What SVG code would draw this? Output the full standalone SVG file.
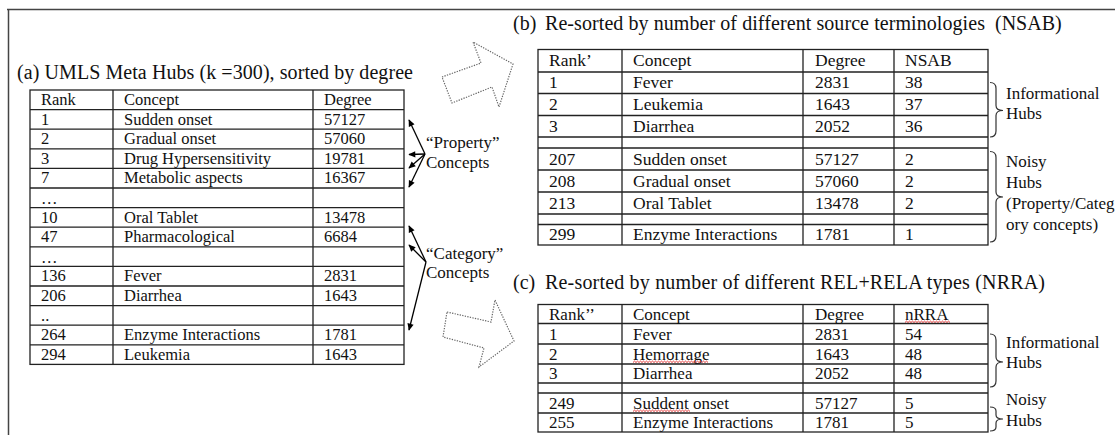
<svg xmlns="http://www.w3.org/2000/svg" width="1115" height="435" viewBox="0 0 1115 435">
<defs>
<marker id="ah" viewBox="0 0 10 10" refX="9" refY="5" markerWidth="8" markerHeight="7" orient="auto" markerUnits="userSpaceOnUse"><path d="M0,0.5 L10,5 L0,9.5 z" fill="#000"/></marker>
</defs>
<style>
text{font-family:"Liberation Serif","Times New Roman",serif;fill:#111}
.ta{font-size:16.5px}
.tb{font-size:17.5px}
.tc{font-size:17px}
.ttl{font-size:20px}
.lbl{font-size:17px}
.grid{fill:none;stroke:#222;stroke-width:1.3}
.blk{fill:#fff;stroke:#666;stroke-width:1.2;stroke-dasharray:1.3 1.3}
.con{stroke:#000;stroke-width:1.3;fill:none;marker-end:url(#ah)}
.brace{fill:none;stroke:#333;stroke-width:1.2}
.wave{fill:none;stroke:#e02020;stroke-width:0.9}
.frame{fill:none;stroke:#444;stroke-width:1.5}
</style>
<rect width="1115" height="435" fill="#fff"/>
<path class="frame" d="M7,9.5H1115M8.5,9V435"/>

<g id="title-a"><text class="ttl" x="17" y="79" textLength="396">(a) UMLS Meta Hubs (k =300), sorted by degree</text></g>

<g id="table-a">
<rect class="grid" x="30" y="90" width="374" height="274.4"/>
<path class="grid" d="M113,90V364.4M313,90V364.4M30,109.6H404M30,129.2H404M30,148.8H404M30,168.4H404M30,188H404M30,207.6H404M30,227.2H404M30,246.8H404M30,266.4H404M30,286H404M30,305.6H404M30,325.2H404M30,344.8H404"/>
<g class="ta">
<text x="41" y="105">Rank</text><text x="124" y="105">Concept</text><text x="324" y="105">Degree</text>
<text x="41" y="124.6">1</text><text x="124" y="124.6">Sudden onset</text><text x="324" y="124.6">57127</text>
<text x="41" y="144.2">2</text><text x="124" y="144.2">Gradual onset</text><text x="324" y="144.2">57060</text>
<text x="41" y="163.8">3</text><text x="124" y="163.8">Drug Hypersensitivity</text><text x="324" y="163.8">19781</text>
<text x="41" y="183.4">7</text><text x="124" y="183.4">Metabolic aspects</text><text x="324" y="183.4">16367</text>
<text x="41" y="204">…</text>
<text x="41" y="222.6">10</text><text x="124" y="222.6">Oral Tablet</text><text x="324" y="222.6">13478</text>
<text x="41" y="242.2">47</text><text x="124" y="242.2">Pharmacological</text><text x="324" y="242.2">6684</text>
<text x="41" y="262.5">…</text>
<text x="41" y="281.4">136</text><text x="124" y="281.4">Fever</text><text x="324" y="281.4">2831</text>
<text x="41" y="301">206</text><text x="124" y="301">Diarrhea</text><text x="324" y="301">1643</text>
<text x="41" y="320.6">..</text>
<text x="41" y="340.2">264</text><text x="124" y="340.2">Enzyme Interactions</text><text x="324" y="340.2">1781</text>
<text x="41" y="359.8">294</text><text x="124" y="359.8">Leukemia</text><text x="324" y="359.8">1643</text>
</g>
</g>

<g id="label-property"><text class="lbl" x="426" y="148">“Property”</text><text class="lbl" x="426" y="168">Concepts</text></g>
<g id="label-category"><text class="lbl" x="426" y="259">“Category”</text><text class="lbl" x="426" y="278">Concepts</text></g>

<g id="connectors">
<line class="con" x1="425" y1="154" x2="409" y2="120"/>
<line class="con" x1="425" y1="154" x2="409" y2="154.5"/>
<line class="con" x1="425" y1="154" x2="409" y2="168"/>
<line class="con" x1="425" y1="154" x2="409" y2="187"/>
<line class="con" x1="426" y1="262" x2="409" y2="226"/>
<line class="con" x1="426" y1="262" x2="409" y2="245"/>
<line class="con" x1="426" y1="262" x2="409" y2="330"/>
<polygon id="arrow-to-b" class="blk" points="442,77 481,63 473,42 513,64 499,107 492,87 452,103"/>
<polygon id="arrow-to-c" class="blk" points="447,312 491,322 495,300 514,341 479,367 484,348 443,337"/>
</g>

<g id="title-b"><text class="ttl" x="513" y="30">(b)</text><text class="ttl" x="545" y="30" textLength="440">Re-sorted by number of different source terminologies</text><text class="ttl" x="995" y="30">(NSAB)</text></g>

<g id="table-b">
<rect class="grid" x="538" y="49.5" width="450" height="195.5"/>
<path class="grid" d="M622,49.5V245M803,49.5V245M894,49.5V245M538,72H988M538,93.5H988M538,115.5H988M538,137H988M538,148H988M538,170H988M538,192H988M538,214H988M538,224.5H988"/>
<g class="tb">
<text x="549" y="66">Rank’</text><text x="633" y="66">Concept</text><text x="815" y="66">Degree</text><text x="905" y="66">NSAB</text>
<text x="549" y="88">1</text><text x="633" y="88">Fever</text><text x="815" y="88">2831</text><text x="905" y="88">38</text>
<text x="549" y="110">2</text><text x="633" y="110">Leukemia</text><text x="815" y="110">1643</text><text x="905" y="110">37</text>
<text x="549" y="131.5">3</text><text x="633" y="131.5">Diarrhea</text><text x="815" y="131.5">2052</text><text x="905" y="131.5">36</text>
<text x="549" y="164.5">207</text><text x="633" y="164.5">Sudden onset</text><text x="815" y="164.5">57127</text><text x="905" y="164.5">2</text>
<text x="549" y="186.5">208</text><text x="633" y="186.5">Gradual onset</text><text x="815" y="186.5">57060</text><text x="905" y="186.5">2</text>
<text x="549" y="208.5">213</text><text x="633" y="208.5">Oral Tablet</text><text x="815" y="208.5">13478</text><text x="905" y="208.5">2</text>
<text x="549" y="240">299</text><text x="633" y="240">Enzyme Interactions</text><text x="815" y="240">1781</text><text x="905" y="240">1</text>
</g>
</g>

<g id="brace-b-info">
<path class="brace" d="M990,82.5Q996,82.5 996,88.5L996,105.5Q996,110.5 1003,110.5Q996,110.5 996,115.5L996,131Q996,137 990,137"/>
<text class="lbl" x="1006" y="99">Informational</text><text class="lbl" x="1006" y="119">Hubs</text>
</g>
<g id="brace-b-noisy">
<path class="brace" d="M990,151.5Q996,151.5 996,157.5L996,192Q996,197 1003,197Q996,197 996,202L996,236Q996,242 990,242"/>
<text class="lbl" x="1006" y="167">Noisy</text><text class="lbl" x="1006" y="188">Hubs</text><text class="lbl" x="1006" y="209">(Property/Categ</text><text class="lbl" x="1006" y="230">ory concepts)</text>
</g>

<g id="title-c"><text class="ttl" x="513" y="289">(c)</text><text class="ttl" x="545" y="289" textLength="500">Re-sorted by number of different REL+RELA types (NRRA)</text></g>

<g id="table-c">
<rect class="grid" x="538" y="304.5" width="450" height="127.5"/>
<path class="grid" d="M622,304.5V432M803,304.5V432M894,304.5V432M538,323.5H988M538,344H988M538,364H988M538,383H988M538,393H988M538,413H988"/>
<g class="tc">
<text x="549" y="320">Rank’’</text><text x="633" y="320">Concept</text><text x="815" y="320">Degree</text><text x="905" y="320">nRRA</text>
<text x="549" y="340">1</text><text x="633" y="340">Fever</text><text x="815" y="340">2831</text><text x="905" y="340">54</text>
<text x="549" y="360">2</text><text x="633" y="360">Hemorrage</text><text x="815" y="360">1643</text><text x="905" y="360">48</text>
<text x="549" y="379">3</text><text x="633" y="379">Diarrhea</text><text x="815" y="379">2052</text><text x="905" y="379">48</text>
<text x="549" y="409">249</text><text x="633" y="409">Suddent onset</text><text x="815" y="409">57127</text><text x="905" y="409">5</text>
<text x="549" y="428">255</text><text x="633" y="428">Enzyme Interactions</text><text x="815" y="428">1781</text><text x="905" y="428">5</text>
</g>
<path class="wave" d="M633,362.5l1.5,-1.4 1.5,1.4 1.5,-1.4 1.5,1.4 1.5,-1.4 1.5,1.4 1.5,-1.4 1.5,1.4 1.5,-1.4 1.5,1.4 1.5,-1.4 1.5,1.4 1.5,-1.4 1.5,1.4 1.5,-1.4 1.5,1.4 1.5,-1.4 1.5,1.4 1.5,-1.4 1.5,1.4 1.5,-1.4 1.5,1.4 1.5,-1.4 1.5,1.4 1.5,-1.4 1.5,1.4 1.5,-1.4 1.5,1.4 1.5,-1.4 1.5,1.4 1.5,-1.4 1.5,1.4 1.5,-1.4 1.5,1.4 1.5,-1.4 1.5,1.4 1.5,-1.4 1.5,1.4 1.5,-1.4 1.5,1.4 1.5,-1.4 1.5,1.4 1.5,-1.4 1.5,1.4 1.5,-1.4 1.5,1.4 1.5,-1.4 1.5,1.4 1.5,-1.4 1.5,1.4"/>
<path class="wave" d="M633,411.5l1.5,-1.4 1.5,1.4 1.5,-1.4 1.5,1.4 1.5,-1.4 1.5,1.4 1.5,-1.4 1.5,1.4 1.5,-1.4 1.5,1.4 1.5,-1.4 1.5,1.4 1.5,-1.4 1.5,1.4 1.5,-1.4 1.5,1.4 1.5,-1.4 1.5,1.4 1.5,-1.4 1.5,1.4 1.5,-1.4 1.5,1.4 1.5,-1.4 1.5,1.4 1.5,-1.4 1.5,1.4 1.5,-1.4 1.5,1.4 1.5,-1.4 1.5,1.4 1.5,-1.4 1.5,1.4 1.5,-1.4 1.5,1.4 1.5,-1.4 1.5,1.4 1.5,-1.4 1.5,1.4"/>
<path class="wave" d="M905,322.5l1.5,-1.4 1.5,1.4 1.5,-1.4 1.5,1.4 1.5,-1.4 1.5,1.4 1.5,-1.4 1.5,1.4 1.5,-1.4 1.5,1.4 1.5,-1.4 1.5,1.4 1.5,-1.4 1.5,1.4 1.5,-1.4 1.5,1.4 1.5,-1.4 1.5,1.4 1.5,-1.4 1.5,1.4 1.5,-1.4 1.5,1.4 1.5,-1.4 1.5,1.4 1.5,-1.4 1.5,1.4 1.5,-1.4 1.5,1.4 1.5,-1.4 1.5,1.4"/>
</g>

<g id="brace-c-info">
<path class="brace" d="M990,334Q996,334 996,340L996,357Q996,362 1003,362Q996,362 996,367L996,381Q996,387 990,387"/>
<text class="lbl" x="1006" y="348">Informational</text><text class="lbl" x="1006" y="368">Hubs</text>
</g>
<g id="brace-c-noisy">
<path class="brace" d="M990,407Q996,407 996,411L996,415Q996,419 1003,419Q996,419 996,423L996,427Q996,431 990,431"/>
<text class="lbl" x="1006" y="405">Noisy</text><text class="lbl" x="1006" y="426">Hubs</text>
</g>
</svg>
